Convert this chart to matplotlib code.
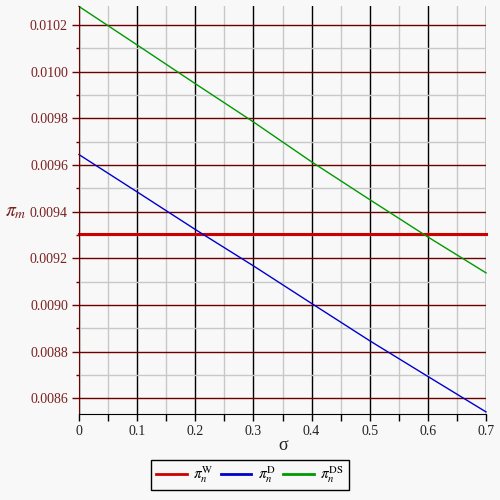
import matplotlib
matplotlib.use("Agg")
import matplotlib.pyplot as plt
from matplotlib.ticker import FixedLocator

plt.rcParams['font.family'] = ['Liberation Serif', 'DejaVu Serif']
plt.rcParams['mathtext.fontset'] = 'stix'

sigma = [0.0, 0.1, 0.2, 0.3, 0.4, 0.5, 0.6, 0.7]
pi_W = [0.009305] * 8
pi_D = [0.009645, 0.009485, 0.009324, 0.009168, 0.009007, 0.008847, 0.008694, 0.008542]
pi_DS = [0.010280, 0.010115, 0.009949, 0.009785, 0.009614, 0.009452, 0.009292, 0.009138]

x_ticks = [0, 0.1, 0.2, 0.3, 0.4, 0.5, 0.6, 0.7]
x_labels = ["0", "0.1", "0.2", "0.3", "0.4", "0.5", "0.6", "0.7"]
y_ticks = [0.0086, 0.0088, 0.0090, 0.0092, 0.0094, 0.0096, 0.0098, 0.0100, 0.0102]
y_labels = ["%.4f" % v for v in y_ticks]
labels = [r'$\pi_n^{\mathrm{W}}$', r'$\pi_n^{\mathrm{D}}$', r'$\pi_n^{\mathrm{DS}}$']

bg = '#f8f8f8'
dred = '#6e0000'
fig = plt.figure(figsize=(5, 5), dpi=100, facecolor=bg)
ax = fig.add_axes([0.158, 0.172, 0.814, 0.816], facecolor=bg)

ax.set_xlim(0, 0.7)
ax.set_ylim(0.008533, 0.010282)

ax.set_xticks(x_ticks)
ax.set_xticklabels(x_labels)
ax.set_yticks(y_ticks)
ax.set_yticklabels(y_labels)
ax.xaxis.set_minor_locator(FixedLocator([0.05, 0.15, 0.25, 0.35, 0.45, 0.55, 0.65]))
ax.yaxis.set_minor_locator(FixedLocator([0.0087, 0.0089, 0.0091, 0.0093, 0.0095, 0.0097, 0.0099, 0.0101]))

ax.set_axisbelow(True)
ax.grid(which='minor', color='#c8c8c8', linewidth=1.0)
ax.xaxis.grid(which='major', color='black', linewidth=1.0)
ax.yaxis.grid(which='major', color=dred, linewidth=1.0)

for s in ['top', 'right']:
    ax.spines[s].set_visible(False)
ax.spines['left'].set_color(dred)
ax.spines['bottom'].set_color('black')

ax.tick_params(axis='x', which='both', direction='out', length=5, width=1, color='black',
               labelsize=10, labelcolor='#222222', pad=3)
ax.tick_params(axis='y', which='major', direction='out', length=5, width=1, color=dred,
               labelsize=10, labelcolor='#7a2020', pad=3)
ax.tick_params(axis='y', which='minor', direction='out', length=2.5, width=1, color=dred)

ax.plot(sigma, pi_W, color='#cc0000', linewidth=2.2, clip_on=False)
ax.plot(sigma, pi_D, color='#0000cc', linewidth=1.0, clip_on=False)
ax.plot(sigma, pi_DS, color='#009900', linewidth=1.0, clip_on=False)

ax.set_xlabel('σ', fontsize=13, color='#222222')
ax.xaxis.set_label_coords(0.502, -0.078)
ax.xaxis.label.set_va('center')
ax.set_ylabel(r'$\pi_m$', fontsize=14, color='#7a2020', rotation=0, va='center', ha='center')
ax.yaxis.set_label_coords(-0.155, 0.495)

handles = [
    plt.Line2D([], [], color='#cc0000', linewidth=2),
    plt.Line2D([], [], color='#0000cc', linewidth=2),
    plt.Line2D([], [], color='#009900', linewidth=2),
]
leg = fig.legend(handles, labels, loc='center', bbox_to_anchor=(0.5, 0.05), ncol=3,
                 frameon=True, fancybox=False, edgecolor='black', facecolor=bg,
                 fontsize=11, handlelength=2.0, handletextpad=0.45, columnspacing=0.45,
                 borderpad=0.3, framealpha=1)
leg.get_frame().set_linewidth(1.0)

fig.savefig('out.png', dpi=100, facecolor=bg)
